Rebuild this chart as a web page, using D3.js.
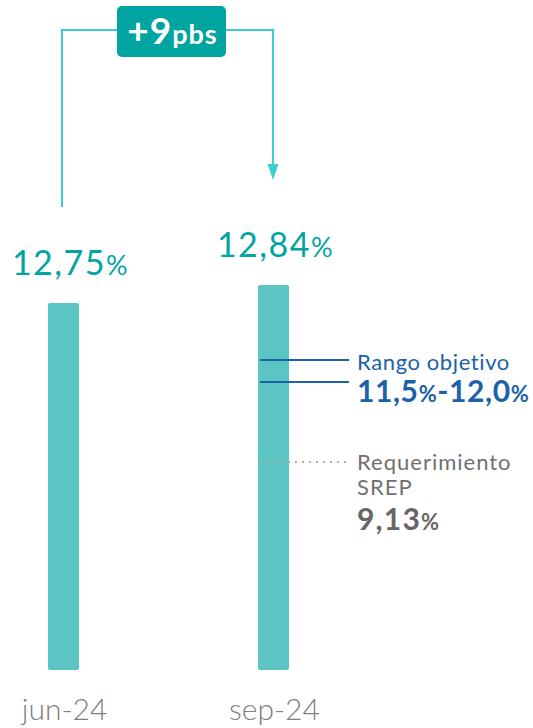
<!DOCTYPE html>
<html>
<head>
<meta charset="utf-8">
<script src="https://cdn.jsdelivr.net/npm/d3@7"></script>
<style>
	html, body { margin: 0; padding: 0; background: #fff; }
	svg { display: block; font-family: Lato, "Open Sans", sans-serif; }
</style>
</head>
<body>
<div id="chart"></div>
<script>
// data
var categories = ['jun-24', 'sep-24']
var ratios = [12.75, 12.84]
var valueLabels = ['12,75', '12,84']
var deltaLabel = '+9'
var deltaUnit = 'pbs'
var targetRange = [11.5, 12.0]
var targetTitle = 'Rango objetivo'
var targetLabel = ['11,5', '12,0']
var srep = 9.13
var srepTitle = ['Requerimiento', 'SREP']
var srepLabel = '9,13'

var width = 533, height = 728
var barW = 31

var svg = d3.select('#chart').append('svg')
	.attr('width', width)
	.attr('height', height)

var x = d3.scalePoint()
	.domain(categories)
	.range([63.5, 273.5])

// broken (piecewise) axis, like the original infographic
var y = d3.scaleLinear()
	.domain([0, srep, targetRange[0], targetRange[1], ratios[0], ratios[1]])
	.range([670, 462, 382, 360, 303, 285])

// BARS
svg.selectAll('.bar')
	.data(ratios)
	.enter().append('rect')
	.attr('class', 'bar')
	.attr('x', function (d, i) { return x(categories[i]) - barW / 2 })
	.attr('y', function (d) { return y(d) })
	.attr('width', barW)
	.attr('height', function (d) { return y(0) - y(d) })
	.attr('rx', 2)
	.attr('fill', '#5bc5c3')

// value labels
var vl = svg.selectAll('.val')
	.data(ratios)
	.enter().append('text')
	.attr('class', 'val')
	.attr('x', function (d, i) { return x(categories[i]) + (i == 0 ? 7 : 2) })
	.attr('y', function (d) { return y(d) - 28 })
	.attr('text-anchor', 'middle')
	.attr('fill', '#00a5a2')
	.style('font-size', '34px')
	.style('letter-spacing', '1.5px')
vl.append('tspan').text(function (d, i) { return valueLabels[i] })
vl.append('tspan').style('font-size', '27px').text('%')

// category labels
svg.selectAll('.cat')
	.data(categories)
	.enter().append('text')
	.attr('class', 'cat')
	.attr('x', function (d) { return x(d) + 1 })
	.attr('y', 720)
	.attr('text-anchor', 'middle')
	.attr('fill', '#808080')
	.style('font-size', '30px')
	.style('font-weight', 300)
	.text(function (d) { return d })

// bracket with arrow
var x0 = x(categories[0]) - 1.5, x1 = x(categories[1]) - 0.5
var topY = 30
var bracketColor = '#3dcfcf'
svg.append('path')
	.attr('d', 'M' + x0 + ',' + (y(ratios[0]) - 96) + 'V' + topY + 'H' + x1 + 'V' + (y(ratios[1]) - 120))
	.attr('fill', 'none')
	.attr('stroke', bracketColor)
	.attr('stroke-width', 2)
svg.append('path')
	.attr('d', 'M' + (x1 - 5.5) + ',' + (y(ratios[1]) - 121) + 'L' + (x1 + 5.5) + ',' + (y(ratios[1]) - 121) + 'L' + x1 + ',' + (y(ratios[1]) - 105) + 'Z')
	.attr('fill', bracketColor)

var bx = (x0 + x1) / 2 + 4
svg.append('rect')
	.attr('x', bx - 54.5)
	.attr('y', 6)
	.attr('width', 109)
	.attr('height', 51)
	.attr('rx', 5)
	.attr('fill', '#00a4a1')
var badge = svg.append('text')
	.attr('x', bx + 1)
	.attr('y', 44)
	.attr('text-anchor', 'middle')
	.attr('fill', '#fff')
	.style('font-weight', 700)
	.style('letter-spacing', '1px')
badge.append('tspan').style('font-size', '37px').text(deltaLabel)
badge.append('tspan').style('font-size', '27px').text(deltaUnit)

// target range annotation
var lineX0 = x(categories[1]) - barW / 2 + 2
var lineX1 = 349
var textX = 357
var blue = '#1c62a8'
svg.selectAll('.target')
	.data(targetRange)
	.enter().append('line')
	.attr('class', 'target')
	.attr('x1', lineX0)
	.attr('x2', lineX1)
	.attr('y1', function (d) { return y(d) })
	.attr('y2', function (d) { return y(d) })
	.attr('stroke', blue)
	.attr('stroke-width', 2)

svg.append('text')
	.attr('x', textX)
	.attr('y', y(targetRange[1]) + 10)
	.attr('fill', blue)
	.style('font-size', '22px')
	.style('letter-spacing', '0.6px')
	.text(targetTitle)
var tl = svg.append('text')
	.attr('x', textX)
	.attr('y', y(targetRange[0]) + 20)
	.attr('fill', blue)
	.style('font-weight', 700)
	.style('font-size', '30px')
	.style('letter-spacing', '0.6px')
tl.append('tspan').text(targetLabel[0])
tl.append('tspan').style('font-size', '22px').text('%')
tl.append('tspan').text('-' + targetLabel[1])
tl.append('tspan').style('font-size', '22px').text('%')

// SREP annotation
svg.append('line')
	.attr('x1', lineX0)
	.attr('x2', lineX1)
	.attr('y1', y(srep))
	.attr('y2', y(srep))
	.attr('stroke', '#b0b0b0')
	.attr('stroke-width', 2)
	.attr('stroke-dasharray', '2,5')

svg.selectAll('.srepT')
	.data(srepTitle)
	.enter().append('text')
	.attr('class', 'srepT')
	.attr('x', textX)
	.attr('y', function (d, i) { return y(srep) + 8 + i * 25 })
	.attr('fill', '#707070')
	.style('font-size', '22px')
	.style('letter-spacing', '1px')
	.text(function (d) { return d })
var sl = svg.append('text')
	.attr('x', textX)
	.attr('y', y(srep) + 68)
	.attr('fill', '#666')
	.style('font-weight', 700)
	.style('font-size', '30px')
	.style('letter-spacing', '1.2px')
sl.append('tspan').text(srepLabel)
sl.append('tspan').style('font-size', '22px').text('%')
</script>
</body>
</html>
